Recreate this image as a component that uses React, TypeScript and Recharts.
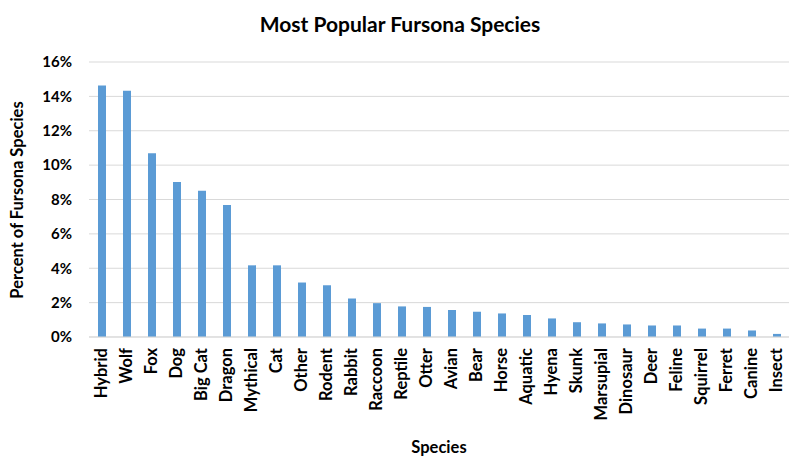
import { BarChart, Bar, XAxis, YAxis, CartesianGrid } from 'recharts';

const species = [
  'Hybrid', 'Wolf', 'Fox', 'Dog', 'Big Cat', 'Dragon', 'Mythical', 'Cat', 'Other', 'Rodent',
  'Rabbit', 'Raccoon', 'Reptile', 'Otter', 'Avian', 'Bear', 'Horse', 'Aquatic', 'Hyena', 'Skunk',
  'Marsupial', 'Dinosaur', 'Deer', 'Feline', 'Squirrel', 'Ferret', 'Canine', 'Insect',
];

const percents = [
  14.64, 14.33, 10.69, 9.02, 8.51, 7.68, 4.17, 4.17, 3.17, 3.01,
  2.24, 1.97, 1.78, 1.75, 1.57, 1.47, 1.37, 1.28, 1.08, 0.86,
  0.79, 0.73, 0.67, 0.67, 0.49, 0.49, 0.38, 0.18,
];

const yTicks = [0, 2, 4, 6, 8, 10, 12, 14, 16];

const data = species.map((name, i) => ({ name, value: percents[i] }));

const FONT = 'Lato, "Open Sans", sans-serif';

function SpeciesTick({ x, y, payload }: any) {
  return (
    <text
      x={x}
      y={y + 3}
      transform={`rotate(-90, ${x}, ${y + 3})`}
      textAnchor="end"
      dy="0.35em"
      fontFamily={FONT}
      fontWeight={700}
      fontSize={16.5}
      fill="#000"
    >
      {payload.value}
    </text>
  );
}

export default function App() {
  return (
    <div style={{ position: 'absolute', left: 0, top: 0, width: 800, height: 466, background: '#fff' }}>
      <BarChart
        width={800}
        height={466}
        data={data}
        margin={{ top: 62, right: 11, left: 29, bottom: 39 }}
        barCategoryGap={0}
      >
        <CartesianGrid vertical={false} stroke="#d9d9d9" strokeWidth={1} />
        <XAxis
          dataKey="name"
          interval={0}
          height={90}
          tickLine={false}
          axisLine={{ stroke: '#d9d9d9' }}
          tick={<SpeciesTick />}
        />
        <YAxis
          width={60}
          domain={[0, 16]}
          ticks={yTicks}
          tickLine={false}
          axisLine={false}
          tickMargin={11}
          tickFormatter={(v: number) => `${v}%`}
          tick={{ fontFamily: FONT, fontWeight: 700, fontSize: 15, fill: '#000' }}
        />
        <Bar dataKey="value" fill="#5b9bd5" barSize={8} isAnimationActive={false} />
      </BarChart>
      <svg
        width={800}
        height={466}
        style={{ position: 'absolute', left: 0, top: 0, pointerEvents: 'none' }}
      >
        <text x={400} y={32} textAnchor="middle" fontFamily={FONT} fontWeight={700} fontSize={21} fill="#000">
          Most Popular Fursona Species
        </text>
        <text
          x={17}
          y={200}
          transform="rotate(-90, 17, 200)"
          textAnchor="middle"
          dy="0.35em"
          fontFamily={FONT}
          fontWeight={700}
          fontSize={16.5}
          fill="#000"
        >
          Percent of Fursona Species
        </text>
        <text x={439} y={453} textAnchor="middle" fontFamily={FONT} fontWeight={700} fontSize={16.5} fill="#000">
          Species
        </text>
      </svg>
    </div>
  );
}
